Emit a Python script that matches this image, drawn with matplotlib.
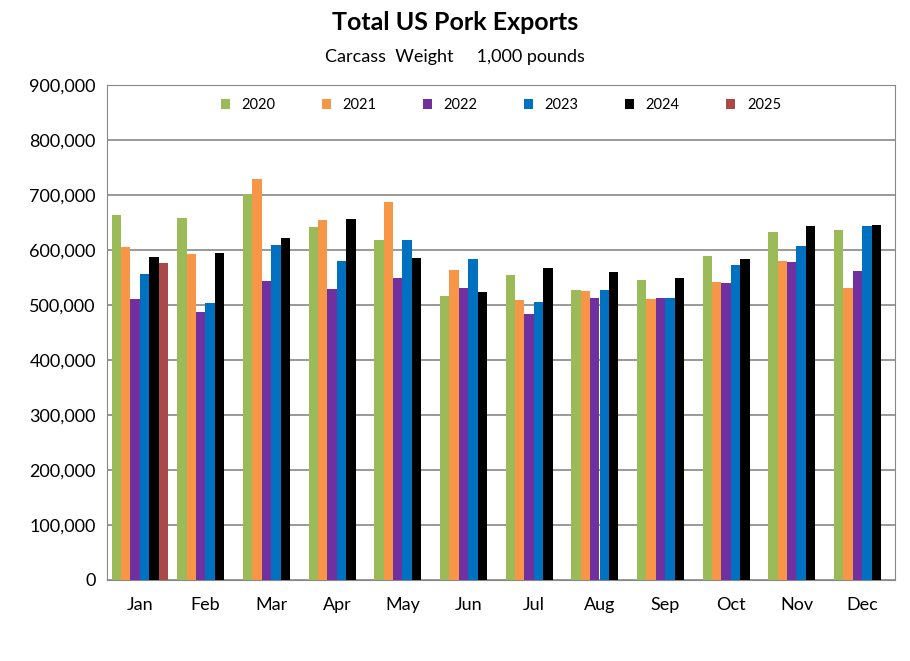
import numpy as np
import matplotlib
matplotlib.use('Agg')
import matplotlib.pyplot as plt
from matplotlib.ticker import FuncFormatter

plt.rcParams['font.family'] = 'Lato'

months = ['Jan', 'Feb', 'Mar', 'Apr', 'May', 'Jun', 'Jul', 'Aug', 'Sep', 'Oct', 'Nov', 'Dec']
years = ['2020', '2021', '2022', '2023', '2024', '2025']
colors = ['#9BBB59', '#F79646', '#7030A0', '#0070C0', '#000000', '#A94A48']

# 1,000 pounds, carcass weight
exp_2020 = [664, 658, 702, 642, 618, 516, 555, 527, 545, 589, 633, 636]
exp_2021 = [605, 593, 729, 655, 687, 564, 509, 525, 511, 542, 580, 531]
exp_2022 = [511, 487, 544, 529, 549, 531, 484, 513, 513, 540, 578, 562]
exp_2023 = [556, 504, 609, 580, 618, 584, 505, 527, 513, 573, 607, 644]
exp_2024 = [587, 595, 622, 656, 585, 524, 567, 560, 549, 584, 644, 645]
exp_2025 = [576]
series = [exp_2020, exp_2021, exp_2022, exp_2023, exp_2024, exp_2025]

fig = plt.figure(figsize=(9.1, 6.61), dpi=100)
ax = fig.add_axes([107/910, 1-580/661, (895-107)/910, (580-85)/661])

w = 0.143
x = np.arange(len(months))
for i, (yr, vals) in enumerate(zip(years, series)):
    xs = x[:len(vals)] + (i - 2.5) * w
    ax.bar(xs, np.array(vals) * 1000, width=w, color=colors[i], label=yr, zorder=3)

ax.set_xlim(-0.5, 11.5)
ax.set_ylim(0, 900000)
ax.set_yticks(np.arange(0, 900001, 100000))
ax.yaxis.set_major_formatter(FuncFormatter(lambda v, p: f'{int(v):,}'))
ax.set_xticks(x)
ax.set_xticklabels(months)
ax.tick_params(axis='both', labelsize=13, length=0)
ax.tick_params(axis='x', pad=12)
ax.tick_params(axis='y', pad=8)
ax.grid(axis='y', color='#888888', linewidth=1.2, zorder=0)
for s in ax.spines.values():
    s.set_color('#888888')

ax.legend(loc='upper center', ncol=6, frameon=False, fontsize=10.5,
          handlelength=0.6, handleheight=0.6, columnspacing=3.2,
          bbox_to_anchor=(0.5, 1.0))

fig.text(0.5, 1-23/661, 'Total US Pork Exports', ha='center', va='center',
         fontsize=18, fontweight='bold')
fig.text(0.5, 1-57/661, 'Carcass  Weight     1,000 pounds', ha='center', va='center',
         fontsize=13)

fig.savefig('out.png', dpi=100)
